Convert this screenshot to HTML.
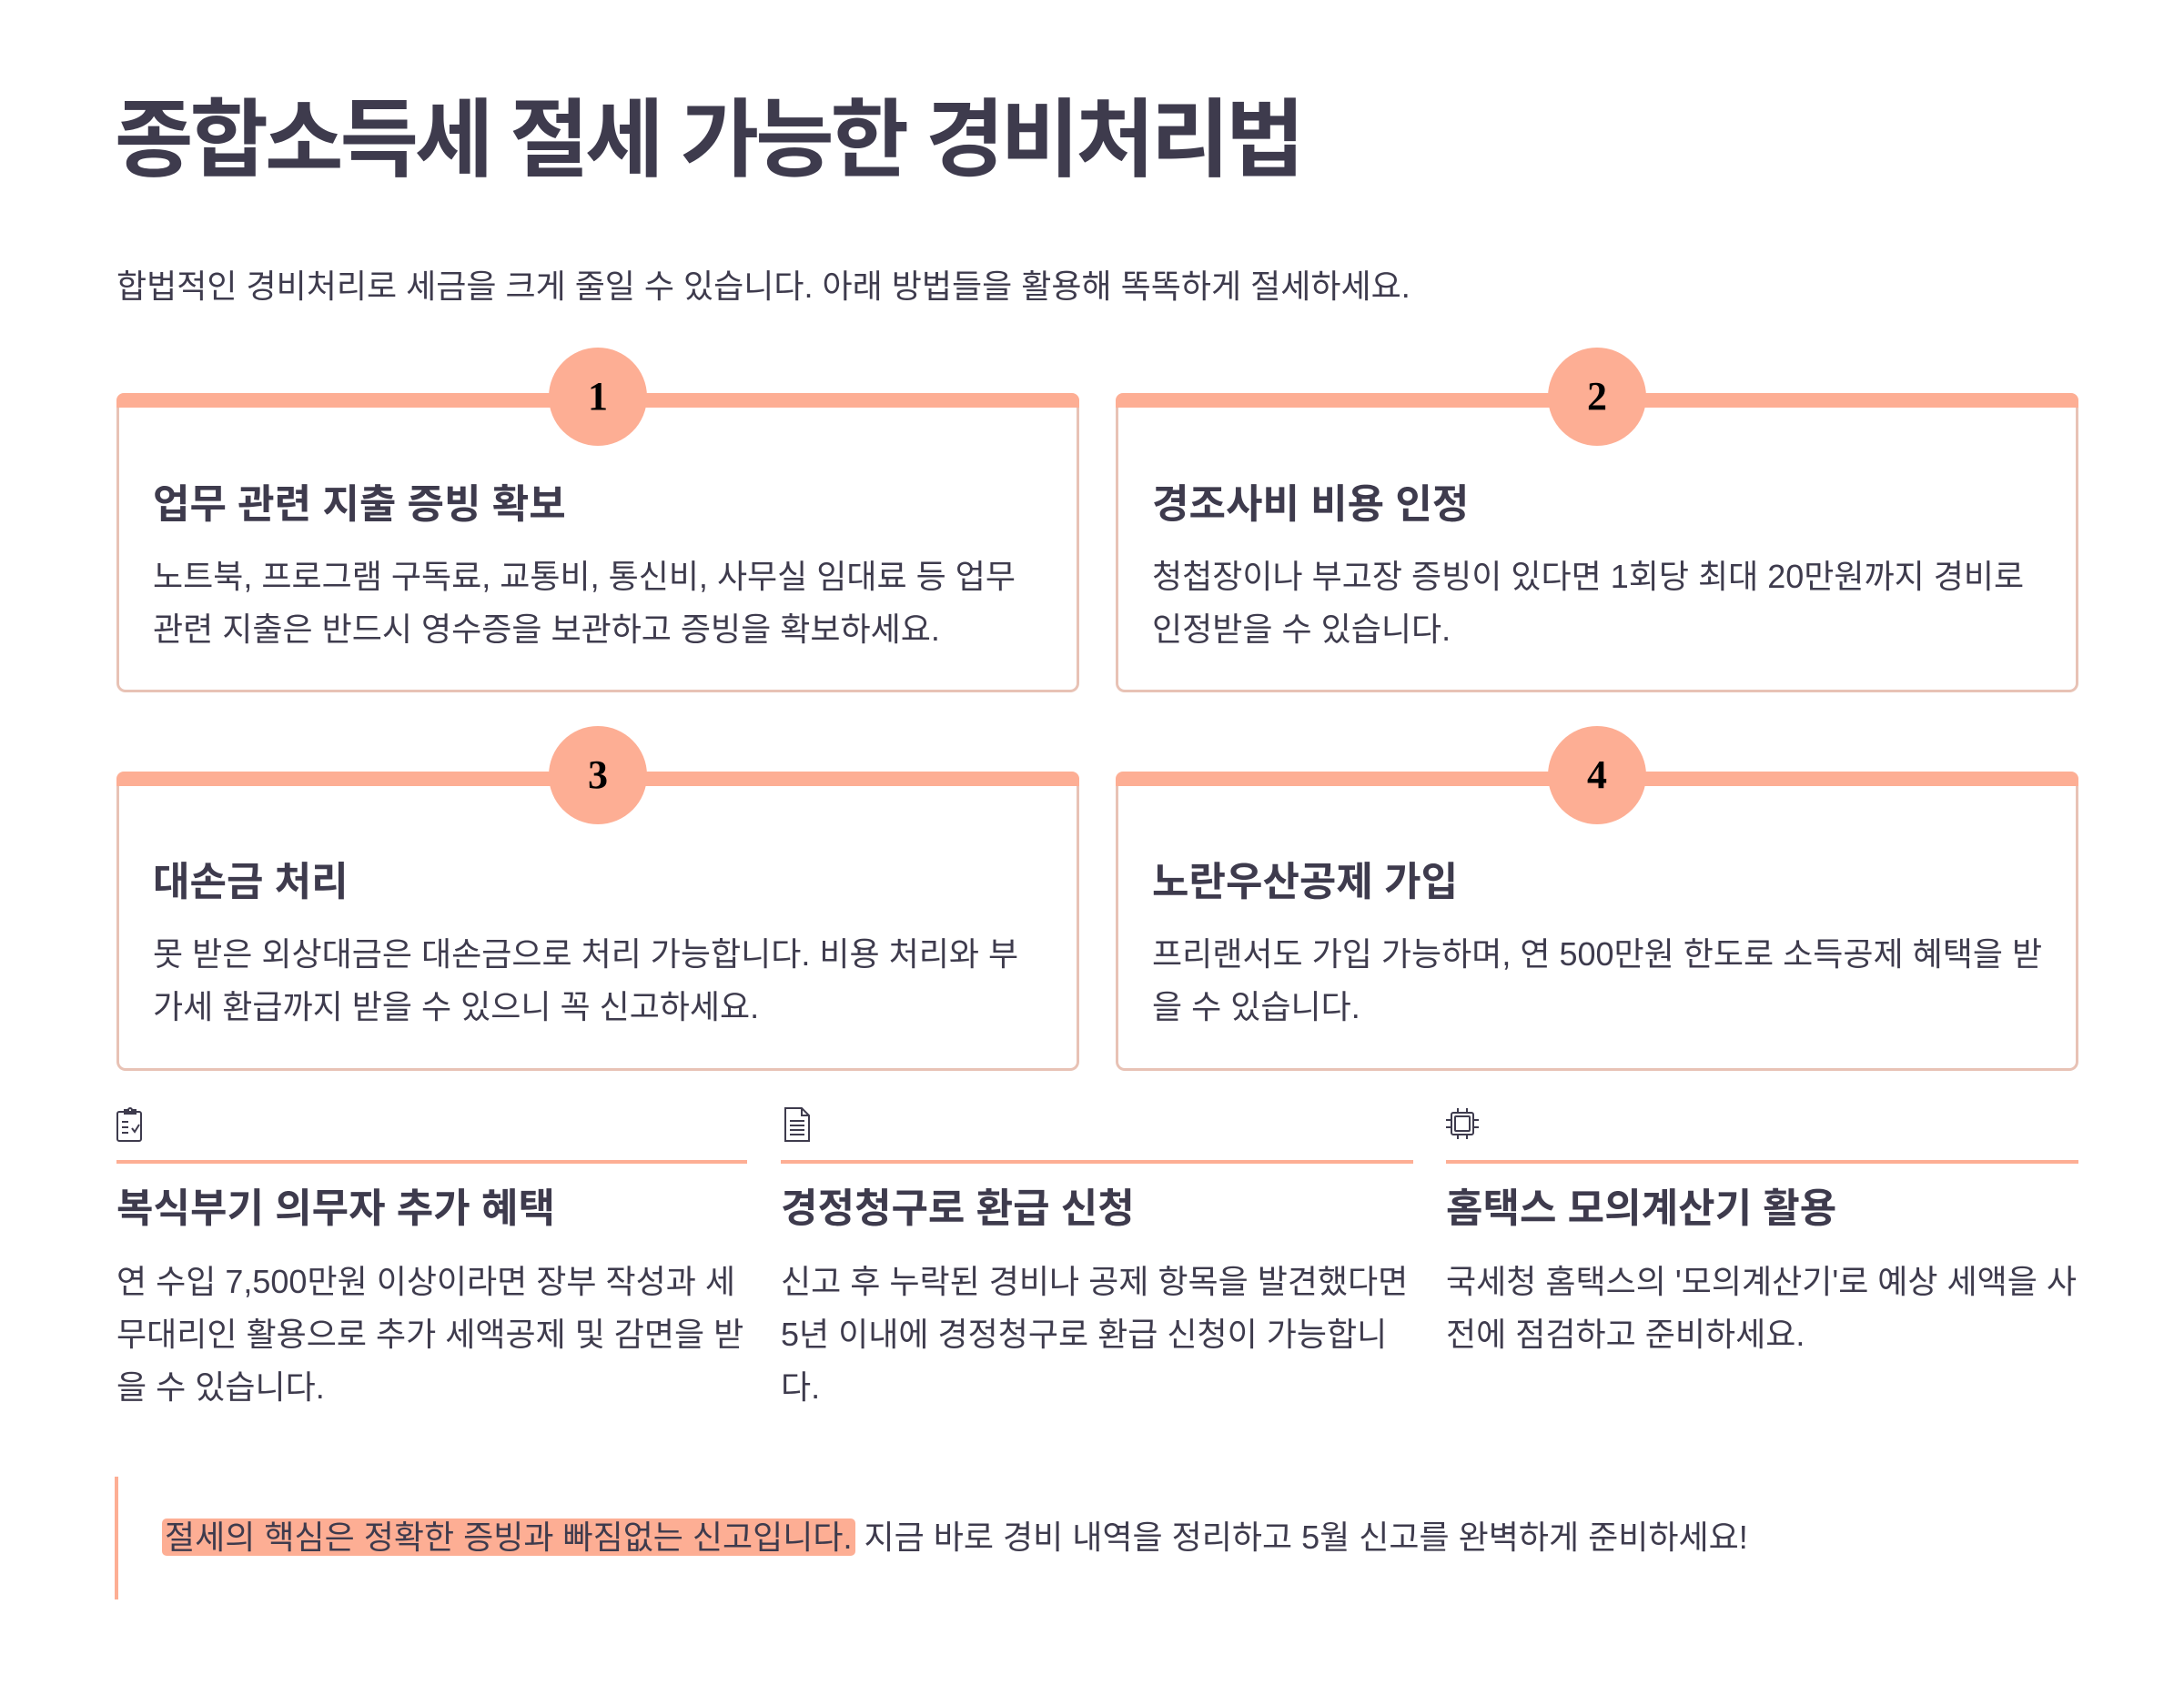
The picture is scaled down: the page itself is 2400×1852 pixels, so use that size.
<!DOCTYPE html>
<html><head><meta charset="utf-8"><style>
*{margin:0;padding:0;box-sizing:border-box}
body{width:2400px;height:1852px;background:#fff;position:relative;overflow:hidden;font-family:"Liberation Sans","Noto Sans CJK KR",sans-serif;color:#3e3b4d}
.a{position:absolute;white-space:nowrap}
.t{font-size:94px;font-weight:700;line-height:120px;letter-spacing:-4px}
.sub{font-size:36px;line-height:50px}
.card{position:absolute;border:3px solid #e8c2b5;border-top:none;border-radius:10px}
.bar{position:absolute;left:-3px;right:-3px;top:0;height:16px;background:#fdae94;border-radius:8px 8px 0 0}
.num{position:absolute;width:108px;height:108px;border-radius:50%;background:#fdae94;font-family:"Liberation Serif",serif;font-weight:700;font-size:44px;line-height:108px;text-align:center;color:#000}
.h{font-size:44px;font-weight:700;line-height:60px}
.b{font-size:36px;line-height:58px;white-space:normal}
.ln{position:absolute;height:4px;background:#fdae94}
</style></head><body>
<div class="a t" style="left:126px;top:94px">종합소득세 절세 가능한 경비처리법</div>
<div class="a sub" style="left:128px;top:290px">합법적인 경비처리로 세금을 크게 줄일 수 있습니다. 아래 방법들을 활용해 똑똑하게 절세하세요.</div>

<div class="card" style="left:128px;top:432px;width:1058px;height:329px"><div class="bar"></div></div>
<div class="card" style="left:1226px;top:432px;width:1058px;height:329px"><div class="bar"></div></div>
<div class="card" style="left:128px;top:848px;width:1058px;height:329px"><div class="bar"></div></div>
<div class="card" style="left:1226px;top:848px;width:1058px;height:329px"><div class="bar"></div></div>
<div class="num" style="left:603px;top:382px">1</div>
<div class="num" style="left:1701px;top:382px">2</div>
<div class="num" style="left:603px;top:798px">3</div>
<div class="num" style="left:1701px;top:798px">4</div>

<div class="a h" style="left:168px;top:525px">업무 관련 지출 증빙 확보</div>
<div class="a b" style="left:168px;top:605px;width:1010px">노트북, 프로그램 구독료, 교통비, 통신비, 사무실 임대료 등 업무<br>관련 지출은 반드시 영수증을 보관하고 증빙을 확보하세요.</div>
<div class="a h" style="left:1266px;top:525px">경조사비 비용 인정</div>
<div class="a b" style="left:1266px;top:605px;width:1010px">청첩장이나 부고장 증빙이 있다면 1회당 최대 20만원까지 경비로<br>인정받을 수 있습니다.</div>
<div class="a h" style="left:168px;top:940px">대손금 처리</div>
<div class="a b" style="left:168px;top:1020px;width:1010px">못 받은 외상대금은 대손금으로 처리 가능합니다. 비용 처리와 부<br>가세 환급까지 받을 수 있으니 꼭 신고하세요.</div>
<div class="a h" style="left:1266px;top:940px">노란우산공제 가입</div>
<div class="a b" style="left:1266px;top:1020px;width:1010px">프리랜서도 가입 가능하며, 연 500만원 한도로 소득공제 혜택을 받<br>을 수 있습니다.</div>

<svg class="a" style="left:126px;top:1216px" width="34" height="40" viewBox="0 0 34 40" fill="none" stroke="#3e3b4d" stroke-width="2"><rect x="3" y="6" width="26" height="32" rx="2"/><path d="M11 6v-2h4a2 2 0 014 0h4v4h-12z"/><path d="M8 17h7M8 23h7M8 29h7M19 24l3 4 5-8"/></svg>
<svg class="a" style="left:860px;top:1216px" width="32" height="40" viewBox="0 0 32 40" fill="none" stroke="#3e3b4d" stroke-width="2"><path d="M3 2h18l8 8v28H3z"/><path d="M21 2v8h8M8 16h16M8 21h16M8 26h16M8 31h16"/></svg>
<svg class="a" style="left:1588px;top:1218px" width="38" height="36" viewBox="0 0 38 36" fill="none" stroke="#3e3b4d" stroke-width="2"><rect x="7" y="5" width="24" height="24" rx="2"/><rect x="11" y="9" width="16" height="16" rx="1"/><path d="M14 0v5M24 0v5M14 29v5M24 29v5M1 13h6M1 21h6M31 13h6M31 21h6"/></svg>
<div class="ln" style="left:128px;top:1275px;width:693px"></div>
<div class="ln" style="left:858px;top:1275px;width:695px"></div>
<div class="ln" style="left:1589px;top:1275px;width:695px"></div>

<div class="a h" style="left:128px;top:1299px">복식부기 의무자 추가 혜택</div>
<div class="a b" style="left:128px;top:1380px;width:710px">연 수입 7,500만원 이상이라면 장부 작성과 세<br>무대리인 활용으로 추가 세액공제 및 감면을 받<br>을 수 있습니다.</div>
<div class="a h" style="left:858px;top:1299px">경정청구로 환급 신청</div>
<div class="a b" style="left:858px;top:1380px;width:710px">신고 후 누락된 경비나 공제 항목을 발견했다면<br>5년 이내에 경정청구로 환급 신청이 가능합니<br>다.</div>
<div class="a h" style="left:1589px;top:1299px">홈택스 모의계산기 활용</div>
<div class="a b" style="left:1589px;top:1380px;width:710px">국세청 홈택스의 '모의계산기'로 예상 세액을 사<br>전에 점검하고 준비하세요.</div>

<div class="a" style="left:126px;top:1623px;width:4px;height:135px;background:#fdae94"></div>
<div class="a sub" style="left:178px;top:1665px"><span style="background:#fdae94;border-radius:5px;padding:0 3px">절세의 핵심은 정확한 증빙과 빠짐없는 신고입니다.</span> 지금 바로 경비 내역을 정리하고 5월 신고를 완벽하게 준비하세요!</div>
</body></html>
